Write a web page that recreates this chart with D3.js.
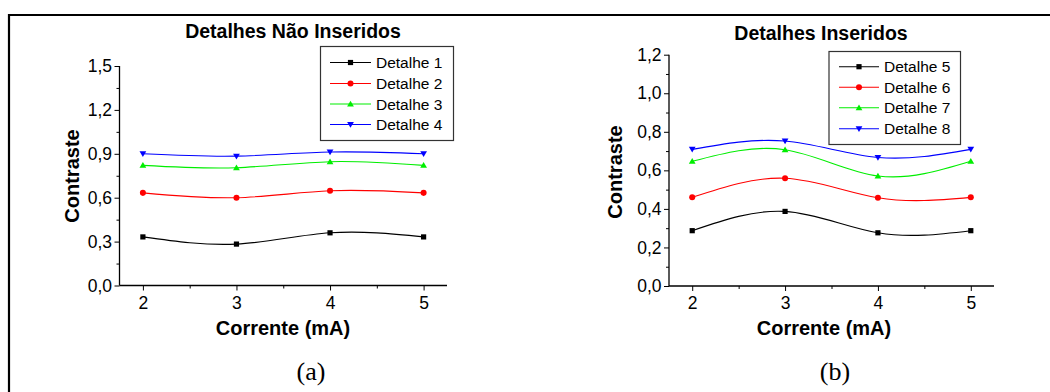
<!DOCTYPE html>
<html><head><meta charset="utf-8">
<script src="https://cdn.jsdelivr.net/npm/d3@7"></script>
<style>body{margin:0;background:#fff}svg{display:block}</style>
</head><body>
<script>
const xValues = [2, 3, 4, 5];
const xTicks = [2, 3, 4, 5];
const seriesNamesA = ["Detalhe 1", "Detalhe 2", "Detalhe 3", "Detalhe 4"];
const detalhe1 = [0.332, 0.283, 0.360, 0.332];
const detalhe2 = [0.633, 0.600, 0.647, 0.633];
const detalhe3 = [0.821, 0.805, 0.846, 0.821];
const detalhe4 = [0.900, 0.884, 0.912, 0.900];
const yTicksA = [0, 0.3, 0.6, 0.9, 1.2, 1.5];
const seriesNamesB = ["Detalhe 5", "Detalhe 6", "Detalhe 7", "Detalhe 8"];
const detalhe5 = [0.287, 0.387, 0.276, 0.287];
const detalhe6 = [0.460, 0.559, 0.458, 0.460];
const detalhe7 = [0.647, 0.707, 0.571, 0.647];
const detalhe8 = [0.709, 0.752, 0.667, 0.709];
const yTicksB = [0, 0.2, 0.4, 0.6, 0.8, 1.0, 1.2];
const colors = ["#000000", "#ff0000", "#00ee00", "#0000ff"];
const symbols = ["square", "circle", "triangle", "triangleDown"];

const W = 1050, H = 392;
const svg = d3.select("body").append("svg").attr("width", W).attr("height", H);
const font = "Arial, 'Liberation Sans', sans-serif";

// outer frame
svg.append("path").attr("d", `M9,${H} L9,15 L${W},15`).attr("fill","none").attr("stroke","#000").attr("stroke-width",2.2);

function markerPath(type, s) {
  if (type === "square") return `M${-s},${-s}h${2*s}v${2*s}h${-2*s}z`;
  if (type === "circle") return d3.symbol(d3.symbolCircle, Math.PI*s*s*1.35)();
  if (type === "triangle") return `M0,${-s*1.25}L${s*1.3},${s*0.95}L${-s*1.3},${s*0.95}z`;
  return `M0,${s*1.25}L${s*1.3},${-s*0.95}L${-s*1.3},${-s*0.95}z`;
}

function panel(cfg) {
  const g = svg.append("g");
  const x = d3.scaleLinear().domain([1.75, 5.25]).range([cfg.x0, cfg.x1]);
  const y = d3.scaleLinear().domain([0, cfg.ymax]).range([cfg.y0, cfg.y1]);
  const fmt = d => d3.format(".1f")(d).replace(".", ",");

  const ya = g.append("g").attr("transform", `translate(${cfg.x0},0)`)
    .call(d3.axisLeft(y).tickValues(cfg.yTicks).tickFormat(fmt).tickSize(5).tickPadding(2.5));
  const minorY = [];
  for (let i = 0; i < cfg.yTicks.length - 1; i++) minorY.push((cfg.yTicks[i] + cfg.yTicks[i+1]) / 2);
  g.append("g").attr("transform", `translate(${cfg.x0},0)`)
    .call(d3.axisLeft(y).tickValues(minorY).tickFormat("").tickSize(3))
    .select(".domain").remove();
  const xa = g.append("g").attr("transform", `translate(0,${cfg.y0})`)
    .call(d3.axisBottom(x).tickValues(xTicks).tickFormat(d3.format("d")).tickSize(5).tickPadding(6));
  g.append("g").attr("transform", `translate(0,${cfg.y0})`)
    .call(d3.axisBottom(x).tickValues([2.5, 3.5, 4.5]).tickFormat("").tickSize(3))
    .select(".domain").remove();
  g.selectAll(".domain").attr("stroke", "#000").attr("stroke-width", 1.3);
  g.selectAll(".tick line").attr("stroke", "#000").attr("stroke-width", 1);
  g.selectAll(".tick text").attr("font-family", font).attr("font-size", 17.5).attr("fill", "#000");
  xa.selectAll(".domain").attr("d", `M${cfg.x0},0H${cfg.x1}`);
  ya.selectAll(".domain").attr("d", `M0,${cfg.y0}V${cfg.y1}`);

  const line = d3.line().x((d, i) => x(xValues[i])).y(d => y(d)).curve(d3.curveNatural);
  cfg.series.forEach((vals, k) => {
    g.append("path").attr("d", line(vals)).attr("fill", "none").attr("stroke", colors[k]).attr("stroke-width", 1.1);
  });
  cfg.series.forEach((vals, k) => {
    g.selectAll(null).data(vals).enter().append("path")
      .attr("transform", (d, i) => `translate(${x(xValues[i])},${y(d)})`)
      .attr("d", markerPath(symbols[k], 2.6))
      .attr("fill", colors[k]);
  });

  g.append("text").attr("x", cfg.titleX).attr("y", cfg.titleY).attr("text-anchor", "middle")
    .attr("font-family", font).attr("font-weight", "bold").attr("font-size", 19.5).text(cfg.title);
  g.append("text").attr("transform", `translate(${cfg.ylabX},${cfg.ylabY}) rotate(-90)`)
    .attr("text-anchor", "middle").attr("dominant-baseline", "central")
    .attr("font-family", font).attr("font-weight", "bold").attr("font-size", 20).text("Contraste");
  g.append("text").attr("x", cfg.xlabX).attr("y", 335).attr("text-anchor", "middle")
    .attr("font-family", font).attr("font-weight", "bold").attr("font-size", 20).text("Corrente (mA)");
  g.append("text").attr("x", cfg.capX).attr("y", 380).attr("text-anchor", "middle")
    .attr("font-family", "'Liberation Serif', 'Times New Roman', serif").attr("font-size", 26).text(cfg.cap);

  const L = cfg.legend;
  g.append("rect").attr("x", L.x).attr("y", L.y).attr("width", L.w).attr("height", L.h)
    .attr("fill", "#fff").attr("stroke", "#333").attr("stroke-width", 1.2);
  cfg.names.forEach((n, k) => {
    const yy = L.rows[k];
    g.append("line").attr("x1", L.lx1).attr("x2", L.lx2).attr("y1", yy).attr("y2", yy)
      .attr("stroke", colors[k]).attr("stroke-width", 1.1);
    g.append("path").attr("transform", `translate(${(L.lx1 + L.lx2) / 2},${yy})`)
      .attr("d", markerPath(symbols[k], 2.6)).attr("fill", colors[k]);
    g.append("text").attr("x", L.tx).attr("y", yy).attr("dominant-baseline", "central")
      .attr("font-family", font).attr("font-size", 15.5).text(n);
  });
}

panel({
  x0: 119.5, x1: 447, y0: 285.5, y1: 66, ymax: 1.5, yTicks: yTicksA,
  series: [detalhe1, detalhe2, detalhe3, detalhe4], names: seriesNamesA,
  title: "Detalhes Não Inseridos", titleX: 293, titleY: 38, ylabX: 72, ylabY: 176, xlabX: 283, capX: 311, cap: "(a)",
  legend: {x: 320.5, y: 46.5, w: 133, h: 94, rows: [62.5, 83.5, 104, 124.5], lx1: 330, lx2: 371, tx: 376}
});
panel({
  x0: 669, x1: 994, y0: 286, y1: 54.7, ymax: 1.2, yTicks: yTicksB,
  series: [detalhe5, detalhe6, detalhe7, detalhe8], names: seriesNamesB,
  title: "Detalhes Inseridos", titleX: 821, titleY: 40, ylabX: 615, ylabY: 172, xlabX: 824, capX: 835, cap: "(b)",
  legend: {x: 829, y: 51.5, w: 131.5, h: 93, rows: [66.7, 87.3, 107.7, 128.7], lx1: 839, lx2: 879, tx: 884}
});
</script>
</body></html>
